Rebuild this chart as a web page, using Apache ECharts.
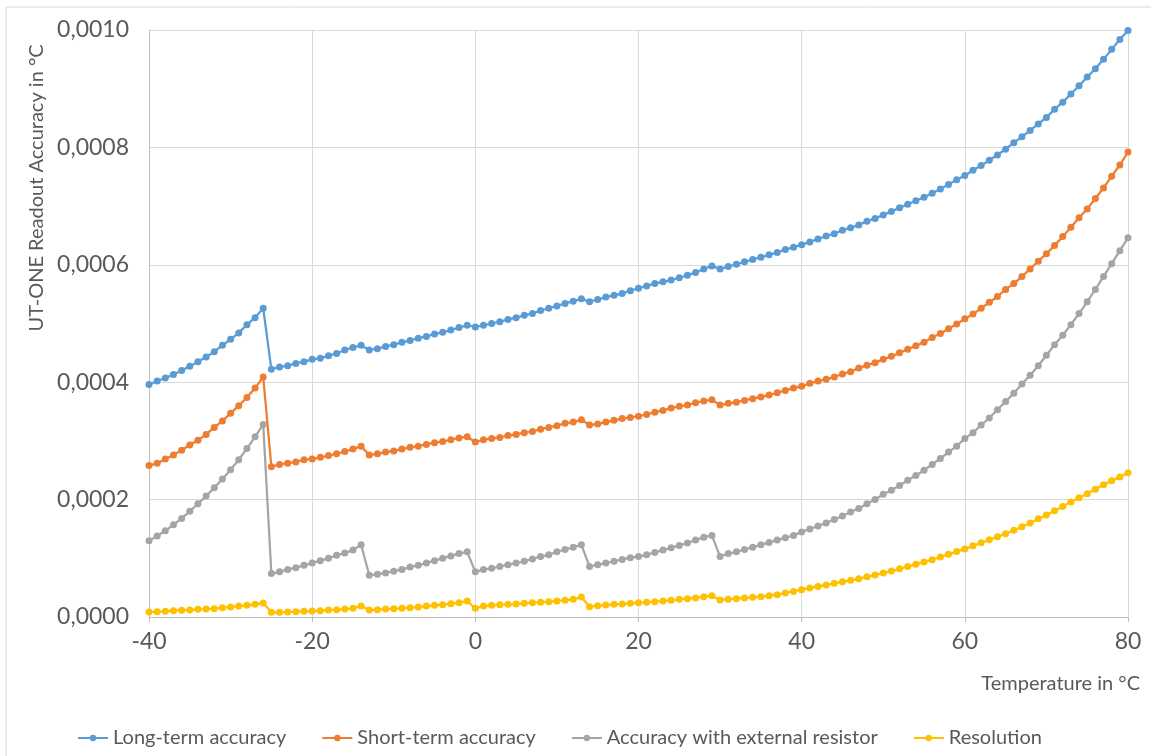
<!DOCTYPE html>
<html>
<head>
<meta charset="utf-8">
<title>UT-ONE Readout Accuracy</title>
<script src="https://cdn.jsdelivr.net/npm/echarts@6/dist/echarts.min.js"></script>
<style>
  html, body { margin: 0; padding: 0; background: #fff; }
  #chart { width: 1151px; height: 756px; }
</style>
</head>
<body>
<div id="chart"></div>
<script>
// temperature steps, one per degree
const temperatures = [
  -40, -39, -38, -37, -36, -35, -34, -33, -32, -31, -30, -29, -28, -27, -26,
  -25, -24, -23, -22, -21, -20, -19, -18, -17, -16, -15, -14, -13, -12, -11,
  -10, -9, -8, -7, -6, -5, -4, -3, -2, -1, 0, 1, 2, 3, 4, 5, 6, 7, 8, 9,
  10, 11, 12, 13, 14, 15, 16, 17, 18, 19, 20, 21, 22, 23, 24, 25, 26, 27, 28, 29,
  30, 31, 32, 33, 34, 35, 36, 37, 38, 39, 40, 41, 42, 43, 44, 45, 46, 47, 48, 49,
  50, 51, 52, 53, 54, 55, 56, 57, 58, 59, 60, 61, 62, 63, 64, 65, 66, 67, 68, 69,
  70, 71, 72, 73, 74, 75, 76, 77, 78, 79, 80
];

const seriesNames = [
  'Long-term accuracy',
  'Short-term accuracy',
  'Accuracy with external resistor',
  'Resolution'
];
const seriesColors = ['#5B9BD5', '#ED7D31', '#A5A5A5', '#FFC000'];

const longTerm = [
  0.000396, 0.000402, 0.000407, 0.000413, 0.000420, 0.000427, 0.000435, 0.000443, 0.000452, 0.000463,
  0.000473, 0.000484, 0.000498, 0.000510, 0.000526,
  0.000422, 0.000426, 0.000428, 0.000432, 0.000435, 0.000439, 0.000441, 0.000445, 0.000449, 0.000455,
  0.000459, 0.000463,
  0.000455, 0.000457, 0.000461, 0.000464, 0.000468, 0.000471, 0.000475, 0.000478, 0.000482, 0.000485,
  0.000489, 0.000493, 0.000497,
  0.000494, 0.000497, 0.000500, 0.000503, 0.000507, 0.000510, 0.000514, 0.000517, 0.000522, 0.000526,
  0.000530, 0.000534, 0.000538, 0.000542,
  0.000537, 0.000541, 0.000545, 0.000548, 0.000551, 0.000556, 0.000560, 0.000564, 0.000568, 0.000571,
  0.000574, 0.000578, 0.000582, 0.000587, 0.000593, 0.000598,
  0.000593, 0.000597, 0.000601, 0.000605, 0.000609, 0.000613, 0.000617, 0.000621, 0.000626, 0.000630,
  0.000634, 0.000639, 0.000644, 0.000649, 0.000653, 0.000659, 0.000663, 0.000668, 0.000674, 0.000679,
  0.000685, 0.000691, 0.000697, 0.000703, 0.000709, 0.000715, 0.000722, 0.000729, 0.000737, 0.000745,
  0.000752, 0.000761, 0.000769, 0.000778, 0.000787, 0.000797, 0.000808, 0.000818, 0.000829, 0.000840,
  0.000851, 0.000865, 0.000877, 0.000891, 0.000905, 0.000920, 0.000934, 0.000950, 0.000967, 0.000984,
  0.000999
];

const shortTerm = [
  0.000258, 0.000262, 0.000269, 0.000276, 0.000284, 0.000293, 0.000301, 0.000311, 0.000323, 0.000334,
  0.000347, 0.000360, 0.000374, 0.000390, 0.000409,
  0.000256, 0.000260, 0.000262, 0.000264, 0.000268, 0.000269, 0.000272, 0.000275, 0.000278, 0.000282,
  0.000286, 0.000291,
  0.000276, 0.000278, 0.000281, 0.000283, 0.000286, 0.000289, 0.000291, 0.000294, 0.000297, 0.000299,
  0.000302, 0.000305, 0.000307,
  0.000298, 0.000302, 0.000304, 0.000306, 0.000309, 0.000311, 0.000314, 0.000316, 0.000320, 0.000323,
  0.000326, 0.000330, 0.000332, 0.000336,
  0.000327, 0.000329, 0.000332, 0.000335, 0.000338, 0.000340, 0.000342, 0.000345, 0.000349, 0.000352,
  0.000356, 0.000359, 0.000361, 0.000365, 0.000368, 0.000370,
  0.000361, 0.000364, 0.000366, 0.000369, 0.000372, 0.000375, 0.000378, 0.000382, 0.000386, 0.000390,
  0.000393, 0.000398, 0.000402, 0.000405, 0.000409, 0.000414, 0.000418, 0.000424, 0.000429, 0.000433,
  0.000439, 0.000444, 0.000450, 0.000456, 0.000462, 0.000468, 0.000476, 0.000483, 0.000491, 0.000499,
  0.000508, 0.000516, 0.000526, 0.000536, 0.000546, 0.000558, 0.000568, 0.000580, 0.000593, 0.000606,
  0.000619, 0.000633, 0.000648, 0.000664, 0.000680, 0.000695, 0.000713, 0.000731, 0.000751, 0.000770,
  0.000792
];

const externalResistor = [
  0.000130, 0.000138, 0.000147, 0.000157, 0.000168, 0.000180, 0.000193, 0.000206, 0.000220, 0.000235,
  0.000251, 0.000268, 0.000287, 0.000307, 0.000328,
  0.000074, 0.000077, 0.000081, 0.000084, 0.000088, 0.000092, 0.000096, 0.000100, 0.000105, 0.000109,
  0.000114, 0.000123,
  0.000071, 0.000073, 0.000075, 0.000078, 0.000081, 0.000085, 0.000088, 0.000092, 0.000096, 0.000100,
  0.000104, 0.000108, 0.000111,
  0.000077, 0.000081, 0.000083, 0.000086, 0.000089, 0.000092, 0.000095, 0.000099, 0.000103, 0.000106,
  0.000111, 0.000115, 0.000119, 0.000123,
  0.000086, 0.000089, 0.000092, 0.000095, 0.000098, 0.000101, 0.000103, 0.000106, 0.000110, 0.000114,
  0.000118, 0.000122, 0.000126, 0.000131, 0.000136, 0.000139,
  0.000103, 0.000108, 0.000111, 0.000115, 0.000119, 0.000123, 0.000127, 0.000131, 0.000135, 0.000139,
  0.000145, 0.000150, 0.000155, 0.000160, 0.000166, 0.000172, 0.000179, 0.000185, 0.000193, 0.000200,
  0.000209, 0.000216, 0.000224, 0.000233, 0.000241, 0.000250, 0.000260, 0.000270, 0.000281, 0.000291,
  0.000304, 0.000314, 0.000327, 0.000339, 0.000353, 0.000367, 0.000381, 0.000397, 0.000412, 0.000428,
  0.000446, 0.000464, 0.000480, 0.000498, 0.000517, 0.000537, 0.000558, 0.000580, 0.000602, 0.000624,
  0.000646
];

const resolution = [
  0.0000085, 0.0000091, 0.0000097, 0.0000108, 0.0000114, 0.0000119, 0.0000131, 0.0000136, 0.0000142, 0.0000159,
  0.0000170, 0.0000187, 0.0000199, 0.0000216, 0.0000239,
  0.0000079, 0.0000079, 0.0000085, 0.0000091, 0.0000097, 0.0000102, 0.0000108, 0.0000119, 0.0000125, 0.0000136,
  0.0000148, 0.0000187,
  0.0000119, 0.0000125, 0.0000136, 0.0000142, 0.0000148, 0.0000159, 0.0000170, 0.0000187, 0.0000199, 0.0000210,
  0.0000227, 0.0000244, 0.0000272,
  0.0000148, 0.0000187, 0.0000199, 0.0000210, 0.0000216, 0.0000221, 0.0000233, 0.0000244, 0.0000250, 0.0000261,
  0.0000273, 0.0000284, 0.0000301, 0.0000341,
  0.0000176, 0.0000193, 0.0000204, 0.0000216, 0.0000221, 0.0000233, 0.0000244, 0.0000250, 0.0000261, 0.0000273,
  0.0000284, 0.0000301, 0.0000312, 0.0000324, 0.0000346, 0.0000363,
  0.0000290, 0.0000301, 0.0000312, 0.0000324, 0.0000335, 0.0000346, 0.0000363, 0.0000380, 0.0000410, 0.0000435,
  0.0000465, 0.0000495, 0.0000521, 0.0000547, 0.0000573, 0.0000599, 0.0000625, 0.0000651, 0.0000684, 0.0000717,
  0.0000749, 0.0000782, 0.0000821, 0.0000860, 0.0000899, 0.0000938, 0.0000977, 0.0001023, 0.0001068, 0.0001114,
  0.0001160, 0.0001212, 0.0001264, 0.0001316, 0.0001368, 0.0001420, 0.0001479, 0.0001537, 0.0001603, 0.0001674,
  0.0001739, 0.0001811, 0.0001883, 0.0001961, 0.0002033, 0.0002098, 0.0002176, 0.0002254, 0.0002319, 0.0002384,
  0.0002456
];

const xTicks = { min: -40, max: 80, step: 20 };
const yTicks = { min: 0, max: 0.001, step: 0.0002 };

const textColor = '#595959';
const fontFamily = 'Lato, "Liberation Sans", sans-serif';

function pairs(values) {
  return temperatures.map((t, i) => [t, values[i]]);
}

const allValues = [longTerm, shortTerm, externalResistor, resolution];

const chart = echarts.init(document.getElementById('chart'), null, { renderer: 'canvas' });

chart.setOption({
  animation: false,
  textStyle: { fontFamily: fontFamily, color: textColor },
  grid: { left: 149, right: 23, top: 30, bottom: 139 },
  legend: {
    left: 72,
    bottom: 3,
    itemWidth: 30,
    itemHeight: 8,
    itemGap: 35,
    textStyle: { fontSize: 20, color: textColor, fontFamily: fontFamily },
    data: seriesNames
  },
  xAxis: {
    type: 'value',
    min: xTicks.min,
    max: xTicks.max,
    interval: xTicks.step,
    axisLine: { show: true, onZero: false, lineStyle: { color: '#bfbfbf', width: 1 } },
    axisTick: { show: true, length: 5, lineStyle: { color: '#bfbfbf' } },
    axisLabel: { fontSize: 23, color: textColor, margin: 13 },
    splitLine: { show: true, lineStyle: { color: '#d9d9d9', width: 1 } }
  },
  yAxis: {
    type: 'value',
    min: yTicks.min,
    max: yTicks.max,
    interval: yTicks.step,
    axisLine: { show: true, onZero: false, lineStyle: { color: '#bfbfbf', width: 1 } },
    axisTick: { show: false },
    axisLabel: {
      fontSize: 23,
      color: textColor,
      margin: 20,
      formatter: function (value) {
        return value.toFixed(4).replace('.', ',');
      }
    },
    splitLine: { show: true, lineStyle: { color: '#d9d9d9', width: 1 } }
  },
  graphic: [
    // chart area outline (only the top/left edges are in frame)
    {
      type: 'rect',
      silent: true,
      shape: { x: 6, y: 7, width: 1200, height: 800 },
      style: { fill: 'none', stroke: '#d9d9d9', lineWidth: 1 }
    },
    {
      type: 'text',
      x: 37,
      y: 188,
      rotation: Math.PI / 2,
      style: {
        text: 'UT-ONE Readout Accuracy in °C',
        fill: textColor,
        font: '20px ' + fontFamily,
        align: 'center',
        verticalAlign: 'middle'
      }
    },
    {
      type: 'text',
      x: 1140,
      y: 684,
      style: {
        text: 'Temperature in °C',
        fill: textColor,
        font: '20px ' + fontFamily,
        align: 'right',
        verticalAlign: 'middle'
      }
    }
  ],
  series: seriesNames.map((name, i) => ({
    name: name,
    type: 'line',
    data: pairs(allValues[i]),
    symbol: 'circle',
    symbolSize: 7,
    showAllSymbol: true,
    itemStyle: { color: seriesColors[i] },
    lineStyle: { color: seriesColors[i], width: 2.25 }
  }))
});
</script>
</body>
</html>
